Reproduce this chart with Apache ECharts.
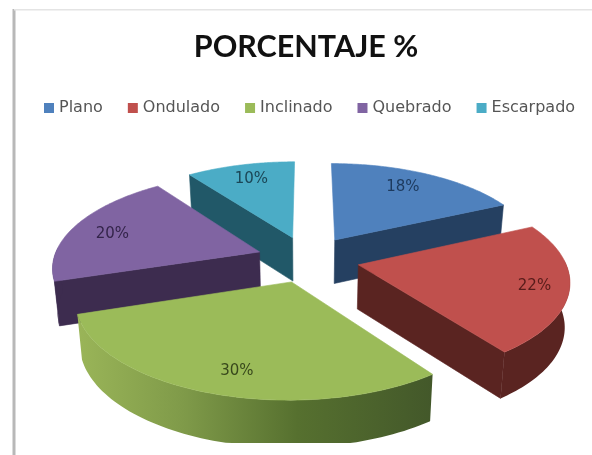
<!DOCTYPE html>
<html><head><meta charset="utf-8">
<style>html,body{margin:0;padding:0;background:#fff}#c{width:592px;height:455px;filter:blur(0.55px)}</style>
<script src="https://cdn.jsdelivr.net/npm/echarts@6/dist/echarts.min.js"></script>
</head><body><div id="c"></div>
<script>
var titleText = 'PORCENTAJE %';
var categories = ['Plano','Ondulado','Inclinado','Quebrado','Escarpado'];
var values = [18,22,30,20,10];
var topColors = ['#4f81bd','#c0504d','#9bbb59','#8064a2','#4bacc6'];
var sideColors = ['#254061','#5a2421','#5b7233','#3d2c4f','#215868'];
var labelColors = ['#1d3a5e','#571c1a','#38481c','#33244a','#1b4656'];
var labelNudgeX = [-10,2,10,6,3];
var labelNudgeY = [3,1,-1,5,3];
var paintOrder = [4,0,3,1,2];

var CX=308, CY=259, R=206, RT=93, K=0.149, EXPLODE=0.25, DEPTH=44, CLIP=443, LABEL_F=0.83;
var total = values.reduce(function(a,b){return a+b;},0);
function project(X,Z,low){
  var s=1/(1+K*Z), x=R*X*s, y=-RT*Z*s;
  if(low){ x*=0.98; y+=DEPTH*(1+(s-1)*0.35); }
  return [CX+x, Math.min(CY+y,CLIP)];
}
function wedge(i){
  var before=0; for(var j=0;j<i;j++) before+=values[j];
  var a0=before/total*2*Math.PI, a1=(before+values[i])/total*2*Math.PI, mid=(a0+a1)/2;
  return {a0:a0,a1:a1,mid:mid,ox:EXPLODE*Math.sin(mid),oz:EXPLODE*Math.cos(mid)};
}
function area(p){var s=0;for(var i=0;i<p.length;i++){var q=p[(i+1)%p.length];s+=p[i][0]*q[1]-q[0]*p[i][1];}return s/2;}
function poly(points,fill,stroke){return {type:'polygon',shape:{points:points},style:{fill:fill,stroke:stroke||fill,lineWidth:0.6}};}

function makeRender(i){
  return function(){
    var w=wedge(i), kids=[], n=70, top=[], low=[], th=[];
    for(var t=0;t<=n;t++){
      var a=w.a0+(w.a1-w.a0)*t/n, X=w.ox+Math.sin(a), Z=w.oz+Math.cos(a);
      top.push(project(X,Z,false)); low.push(project(X,Z,true)); th.push(a);
    }
    var at=project(w.ox,w.oz,false), al=project(w.ox,w.oz,true);
    var side=sideColors[i];
    [[top[0],at,al,low[0]],[at,top[n],low[n],al]].forEach(function(f,fi){
      var isEdgeOn = Math.abs(Math.sin(fi===0?w.a0:w.a1))<0.01;
      if(area(f)>0 && !isEdgeOn) kids.push(poly(f,side));
    });
    var run=[];
    for(var k=0;k<=n;k++){ if(Math.cos(th[k])<0.05) run.push(k); }
    if(run.length>1){
      var pts=[]; run.forEach(function(k){pts.push(top[k]);});
      run.slice().reverse().forEach(function(k){pts.push(low[k]);});
      var fill=side;
      if(i===2){ fill={type:'linear',x:0,y:0,x2:1,y2:0,colorStops:[
        {offset:0,color:'#9ab558'},{offset:0.3,color:'#7f9a49'},{offset:0.62,color:'#56702f'},{offset:1,color:'#43582a'}]}; }
      kids.push({type:'polygon',shape:{points:pts},style:{fill:fill}});
    }
    kids.push(poly(top.concat([at]),topColors[i]));
    var lX=w.ox+LABEL_F*Math.sin(w.mid), lZ=w.oz+LABEL_F*Math.cos(w.mid), lp=project(lX,lZ,false);
    kids.push({type:'text',x:lp[0]+labelNudgeX[i],y:lp[1]+labelNudgeY[i],style:{text:values[i]+'%',fill:labelColors[i],
      font:'15px "DejaVu Sans"',textAlign:'center',textVerticalAlign:'middle'}});
    return {type:'group',children:kids};
  };
}
var series=categories.map(function(name,i){
  return {type:'custom',name:name,coordinateSystem:'none',silent:true,animation:false,
    z:2+paintOrder.indexOf(i),itemStyle:{color:topColors[i]},data:[[values[i]]],renderItem:makeRender(i)};
});
var chart=echarts.init(document.getElementById('c'),null,{renderer:'canvas'});
chart.setOption({
  animation:false,
  backgroundColor:'#fff',
  title:{text:titleText,left:301,top:42,textAlign:'center',textVerticalAlign:'middle',
    textStyle:{fontFamily:'Lato',fontWeight:'bold',fontSize:30.5,color:'#111'}},
  legend:{data:categories,left:39,top:95,itemWidth:10,itemHeight:10,itemGap:25,icon:'rect',
    textStyle:{fontFamily:'"DejaVu Sans"',fontSize:16,color:'#555'}},
  graphic:[
    {type:'rect',shape:{x:12.5,y:9,width:3,height:446},style:{fill:'#b8b8b8'},z:1},
    {type:'rect',shape:{x:14,y:9,width:578,height:1.5},style:{fill:'#e4e4e4'},z:1}
  ],
  series:series
});
</script></body></html>
